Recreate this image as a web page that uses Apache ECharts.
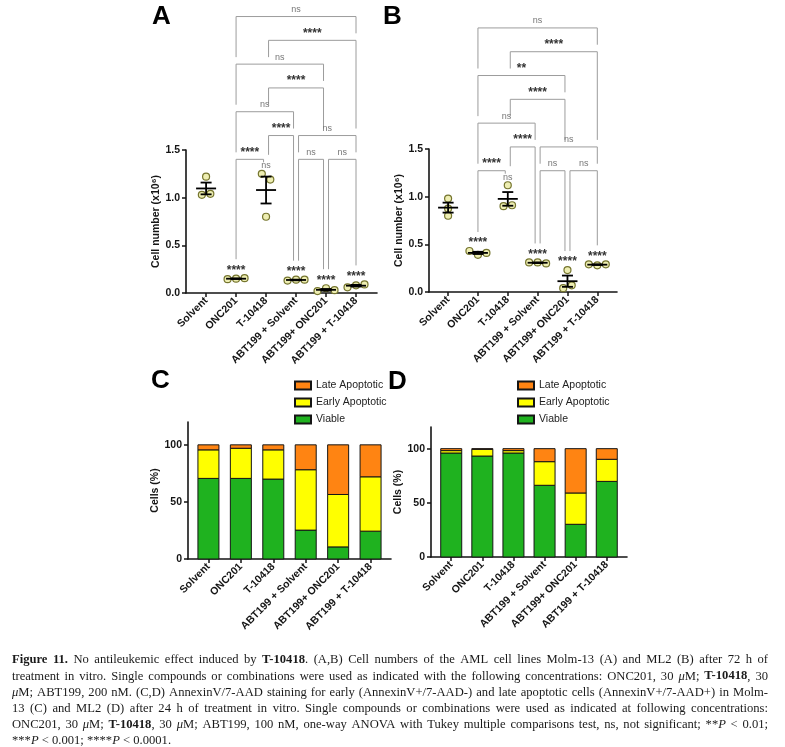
<!DOCTYPE html>
<html><head><meta charset="utf-8">
<script src="https://cdn.jsdelivr.net/npm/echarts@6/dist/echarts.min.js"></script>
<style>html,body{margin:0;padding:0;background:#fff}#c{width:785px;height:747px}</style>
</head><body><div id="c"></div><script>
// ---------------- data ----------------
const categories = ['Solvent', 'ONC201', 'T-10418', 'ABT199 + Solvent', 'ABT199+ ONC201', 'ABT199 + T-10418'];
const categoryTicks = [0, 1, 2, 3, 4, 5];
const cellTicks = [0, 0.5, 1, 1.5];
const percentTicks = [0, 50, 100];

// Panel A (Molm-13) cell numbers x10^6, three replicates per group
const molm13Cells = [[1.22, 1.03, 1.04], [0.145, 0.15, 0.155], [1.25, 1.19, 0.80], [0.13, 0.14, 0.14], [0.02, 0.05, 0.03], [0.06, 0.08, 0.09]];
// Panel B (ML2) cell numbers x10^6
const ml2Cells = [[0.98, 0.80, 0.875], [0.43, 0.39, 0.41], [1.12, 0.90, 0.91], [0.31, 0.31, 0.30], [0.23, 0.04, 0.07], [0.29, 0.28, 0.29]];

// significance vs. Solvent, shown above each group
const groupMarksA = ['', '****', 'ns', '****', '****', '****'];
const groupMarksB = ['', '****', 'ns', '****', '****', '****'];

// pairwise comparisons: [group i, group j, bracket row, label]
const comparisonsA = [[1, 5, 6, 'ns'], [2, 5, 5, '****'], [1, 4, 4, 'ns'], [2, 4, 3, '****'], [1, 3, 2, 'ns'], [2, 3, 1, '****'], [3, 5, 1, 'ns'], [1, 2, 0, '****'], [3, 4, 0, 'ns'], [4, 5, 0, 'ns']];
const comparisonsB = [[1, 5, 6, 'ns'], [2, 5, 5, '****'], [1, 4, 4, '**'], [2, 4, 3, '****'], [1, 3, 2, 'ns'], [2, 3, 1, '****'], [3, 5, 1, 'ns'], [1, 2, 0, '****'], [3, 4, 0, 'ns'], [4, 5, 0, 'ns']];

// Panel C (Molm-13) % cells
const molm13Viable = [70.6, 70.6, 70.0, 25.3, 10.6, 24.4];
const molm13Early = [25.0, 26.4, 25.6, 52.9, 45.9, 47.6];
const molm13Late = [4.4, 3.0, 4.4, 21.8, 43.5, 28.0];
// Panel D (ML2) % cells
const ml2Viable = [96.0, 93.2, 96.0, 66.2, 30.2, 69.8];
const ml2Early = [2.2, 6.2, 2.2, 21.8, 28.9, 20.4];
const ml2Late = [1.8, 0.6, 1.8, 12.0, 40.9, 9.8];

const statusNames = ['Viable', 'Early Apoptotic', 'Late Apoptotic'];
const legendOrder = ['Late Apoptotic', 'Early Apoptotic', 'Viable'];

const captionLines = [
  '{b|Figure} {b|11.} No antileukemic effect induced by {b|T-10418}. (A,B) Cell numbers of the AML cell lines Molm-13 (A) and ML2 (B) after 72 h of',
  'treatment in vitro. Single compounds or combinations were used as indicated with the following concentrations: ONC201, 30 {i|μ}M; {b|T-10418}, 30',
  '{i|μ}M; ABT199, 200 nM. (C,D) AnnexinV/7-AAD staining for early (AnnexinV+/7-AAD-) and late apoptotic cells (AnnexinV+/7-AAD+) in Molm-',
  '13 (C) and ML2 (D) after 24 h of treatment in vitro. Single compounds or combinations were used as indicated at following concentrations:',
  'ONC201, 30 {i|μ}M; {b|T-10418}, 30 {i|μ}M; ABT199, 100 nM, one-way ANOVA with Tukey multiple comparisons test, ns, not significant; **{i|P} < 0.01;',
  '***{i|P} < 0.001; ****{i|P} < 0.0001.'
];

// ---------------- helpers ----------------
const SANS = '"Liberation Sans", Arial, sans-serif';
const SERIF = '"Liberation Serif", "Times New Roman", serif';
const INK = '#151515';

function mean(a) { return a.reduce((s, v) => s + v, 0) / a.length; }
function sem(a) { const m = mean(a); const sd = Math.sqrt(a.reduce((s, v) => s + (v - m) * (v - m), 0) / (a.length - 1)); return sd / Math.sqrt(a.length); }
function groupTop(a) { return Math.max(Math.max.apply(null, a), mean(a) + sem(a)); }

function pointsSeries(idx, values) {
  const data = [];
  values.forEach((arr, c) => {
    const order = arr.map((v, k) => ({ v, k })).sort((a, b) => a.v - b.v);
    const groups = []; let g = [order[0]];
    for (let n = 1; n < order.length; n++) {
      if (order[n].v - order[n - 1].v < 0.07) g.push(order[n]); else { groups.push(g); g = [order[n]]; }
    }
    groups.push(g);
    groups.forEach(gr => { gr.sort((a, b) => a.k - b.k); gr.forEach((p, q) => data.push([c, p.v, q - (gr.length - 1) / 2])); });
  });
  return {
    type: 'custom', xAxisIndex: idx, yAxisIndex: idx, z: 3, data, encode: { x: 0, y: 1 },
    renderItem: (params, api) => {
      const p = api.coord([api.value(0), api.value(1)]);
      return { type: 'circle', shape: { cx: p[0] + api.value(2) * 8.5, cy: p[1], r: 3.5 }, style: { fill: '#eeeeb2', stroke: '#75752e', lineWidth: 1.2 } };
    }
  };
}

function meanSemSeries(idx, values) {
  return {
    type: 'custom', xAxisIndex: idx, yAxisIndex: idx, z: 4,
    data: values.map((a, c) => [c, mean(a), sem(a)]), encode: { x: 0, y: 1 },
    renderItem: (params, api) => {
      const c = api.value(0), m = api.value(1), s = api.value(2);
      const pm = api.coord([c, m]), ph = api.coord([c, m + s]), pl = api.coord([c, m - s]);
      const x = pm[0];
      const st = { stroke: '#000', lineWidth: 1.8 };
      return { type: 'group', children: [
        { type: 'line', shape: { x1: x, y1: ph[1], x2: x, y2: pl[1] }, style: st },
        { type: 'line', shape: { x1: x - 5.5, y1: ph[1], x2: x + 5.5, y2: ph[1] }, style: st },
        { type: 'line', shape: { x1: x - 5.5, y1: pl[1], x2: x + 5.5, y2: pl[1] }, style: st },
        { type: 'line', shape: { x1: x - 10, y1: pm[1], x2: x + 10, y2: pm[1] }, style: st }
      ] };
    }
  };
}

function markText(label, x, y) {
  const ns = label === 'ns';
  return { type: 'text', x, y, style: { text: label, align: 'center', verticalAlign: 'middle',
    fontFamily: SANS, fontSize: ns ? 9 : 12, fontWeight: ns ? 'normal' : 'bold', fill: ns ? '#777' : '#333' } };
}

function groupMarkSeries(idx, values, marks) {
  return {
    type: 'custom', xAxisIndex: idx, yAxisIndex: idx, z: 4,
    data: values.map((a, c) => [c, groupTop(a), c]), encode: { x: 0, y: 1 },
    renderItem: (params, api) => {
      const p = api.coord([api.value(0), api.value(1)]);
      const label = marks[api.value(2)];
      if (!label) return null;
      return markText(label, p[0], p[1] - 8);
    }
  };
}

function bracketSeries(idx, values, comps) {
  const tops = values.map(groupTop);
  const maxTop = Math.max.apply(null, tops);
  const isLeft = {}, isRight = {};
  comps.forEach(c => { isLeft[c[0]] = true; isRight[c[1]] = true; });
  return {
    type: 'custom', xAxisIndex: idx, yAxisIndex: idx, z: 2, clip: false,
    data: comps.map((c, k) => [c[0], c[1], c[2], k]), encode: { x: 0, y: 2 },
    renderItem: (params, api) => {
      const yBase = api.coord([0, maxTop])[1] - 14.5;
      const yRow = r => yBase - r * 23.8;
      const legX = (col, side) => {
        const x = api.coord([col, 0])[0];
        if (isLeft[col] && isRight[col]) return x + (side === 'L' ? 2.5 : -2.5);
        return x;
      };
      const legEnd = (x, col, r) => {
        let best = null;
        comps.forEach(o => {
          if (o[2] < r) {
            const xl = legX(o[0], 'L'), xr = legX(o[1], 'R');
            if (x >= xl - 0.6 && x <= xr + 0.6) { const y = yRow(o[2]) - 7; if (best === null || y < best) best = y; }
          }
        });
        if (best !== null) return best;
        const ann = api.coord([col, tops[col]])[1] - 8 - 11;
        return Math.max(ann, yRow(r) + 3);
      };
      const cmp = comps[api.value(3)];
      const r = cmp[2];
      const y = yRow(r);
      const xl = legX(cmp[0], 'L'), xr = legX(cmp[1], 'R');
      const el = legEnd(xl, cmp[0], r), er = legEnd(xr, cmp[1], r);
      return { type: 'group', children: [
        { type: 'polyline', shape: { points: [[xl, el], [xl, y], [xr, y], [xr, er]] }, style: { stroke: '#9c9c9c', lineWidth: 1, fill: null } },
        markText(cmp[3], (xl + xr) / 2, y - 7)
      ] };
    }
  };
}

function xAxisFor(idx, min, max) {
  return {
    gridIndex: idx, type: 'value', min, max,
    axisLine: { show: true, onZero: false, lineStyle: { color: INK, width: 1.6 } },
    axisTick: { show: true, customValues: categoryTicks, length: 4, lineStyle: { color: INK, width: 1.5 } },
    axisLabel: { customValues: categoryTicks, formatter: v => categories[Math.round(v)], rotate: 45, margin: 6,
      fontFamily: SANS, fontSize: 10.5, fontWeight: 'bold', color: INK },
    splitLine: { show: false }
  };
}

function yAxisFor(idx, max, ticks, name, gap, fmt) {
  return {
    gridIndex: idx, type: 'value', min: 0, max,
    name, nameLocation: 'middle', nameGap: gap,
    nameTextStyle: { fontFamily: SANS, fontSize: 10.5, fontWeight: 'bold', color: INK },
    axisLine: { show: true, onZero: false, lineStyle: { color: INK, width: 1.6 } },
    axisTick: { show: true, customValues: ticks, length: 4, lineStyle: { color: INK, width: 1.5 } },
    axisLabel: { customValues: ticks, formatter: fmt, margin: 6, fontFamily: SANS, fontSize: 10.5, fontWeight: 'bold', color: INK },
    splitLine: { show: false }
  };
}

const statusColors = { 'Viable': '#1fb21f', 'Early Apoptotic': '#ffff00', 'Late Apoptotic': '#ff8412' };
function stackSeries(idx, arrays) {
  return arrays.map((arr, k) => ({
    type: 'custom', name: statusNames[k], xAxisIndex: idx, yAxisIndex: idx, z: 2,
    data: arr.map((v, c) => {
      let base = 0;
      for (let q = 0; q < k; q++) base += arrays[q][c];
      return [c, base + v, base];
    }),
    encode: { x: 0, y: 1 },
    itemStyle: { color: statusColors[statusNames[k]], borderColor: INK, borderWidth: 1 },
    renderItem: (params, api) => {
      const top = api.coord([api.value(0), api.value(1)]);
      const bot = api.coord([api.value(0), api.value(2)]);
      const w = 21;
      return { type: 'rect', shape: { x: top[0] - w / 2, y: top[1], width: w, height: bot[1] - top[1] },
        style: { fill: statusColors[statusNames[k]], stroke: INK, lineWidth: 1 } };
    }
  }));
}

function legendFor(left) {
  return {
    data: legendOrder, orient: 'vertical', left, top: 374, icon: 'rect', itemWidth: 16, itemHeight: 8, itemGap: 4,
    selectedMode: false, textStyle: { fontFamily: SANS, fontSize: 10.5, color: '#222', lineHeight: 13 }
  };
}

function captionGraphics() {
  const size = 12.6, left = 12, right = 768, top0 = 660, lh = 16.2;
  const ctx = document.createElement('canvas').getContext('2d');
  const fontOf = t => (t === 'i' ? 'italic ' : '') + (t === 'b' ? 'bold ' : '') + size + 'px ' + SERIF;
  const measure = w => {
    let width = 0;
    w.replace(/\{(\w)\|([^}]*)\}|([^{]+)/g, (m, t, tx, plain) => { ctx.font = fontOf(t || ''); width += ctx.measureText(t ? tx : plain).width; return m; });
    return width;
  };
  ctx.font = fontOf('');
  const space = ctx.measureText(' ').width;
  const els = [];
  captionLines.forEach((line, li) => {
    const words = line.split(' ');
    const widths = words.map(measure);
    const total = widths.reduce((a, b) => a + b, 0);
    const last = li === captionLines.length - 1;
    const gap = last ? space : (right - left - total) / (words.length - 1);
    let x = left;
    words.forEach((w, k) => {
      els.push({ type: 'text', x, y: top0 + li * lh, silent: true, style: {
        text: w, fontFamily: SERIF, fontSize: size, fill: '#1a1a1a', verticalAlign: 'middle',
        rich: { b: { fontFamily: SERIF, fontSize: size, fontWeight: 'bold', fill: '#1a1a1a' }, i: { fontFamily: SERIF, fontSize: size, fontStyle: 'italic', fill: '#1a1a1a' } } } });
      x += widths[k] + gap;
    });
  });
  return els;
}

function panelLetter(t, left, top) {
  return { type: 'text', left, top, style: { text: t, fontFamily: SANS, fontSize: 26, fontWeight: 'bold', fill: '#000' } };
}

const chart = echarts.init(document.getElementById('c'), null, { renderer: 'canvas' });
chart.setOption({
  animation: false,
  backgroundColor: '#fff',
  grid: [
    { left: 186, top: 150, width: 191, height: 143 },
    { left: 429, top: 149, width: 188, height: 143 },
    { left: 188, top: 422, width: 203, height: 137 },
    { left: 431, top: 427, width: 196, height: 130 }
  ],
  xAxis: [xAxisFor(0, -0.67, 5.7), xAxisFor(1, -0.64, 5.66), xAxisFor(2, -0.63, 5.63), xAxisFor(3, -0.65, 5.65)],
  yAxis: [
    yAxisFor(0, 1.5, cellTicks, 'Cell number (x10⁶)', 21, v => v.toFixed(1)),
    yAxisFor(1, 1.5, cellTicks, 'Cell number (x10⁶)', 23, v => v.toFixed(1)),
    yAxisFor(2, 120, percentTicks, 'Cells (%)', 24, v => String(v)),
    yAxisFor(3, 120, percentTicks, 'Cells (%)', 23, v => String(v))
  ],
  legend: [legendFor(289), legendFor(512)],
  series: [
    bracketSeries(0, molm13Cells, comparisonsA),
    pointsSeries(0, molm13Cells),
    meanSemSeries(0, molm13Cells),
    groupMarkSeries(0, molm13Cells, groupMarksA),
    bracketSeries(1, ml2Cells, comparisonsB),
    pointsSeries(1, ml2Cells),
    meanSemSeries(1, ml2Cells),
    groupMarkSeries(1, ml2Cells, groupMarksB)
  ].concat(stackSeries(2, [molm13Viable, molm13Early, molm13Late]))
   .concat(stackSeries(3, [ml2Viable, ml2Early, ml2Late])),
  graphic: [
    panelLetter('A', 152, 4), panelLetter('B', 383, 4), panelLetter('C', 151, 368), panelLetter('D', 388, 369)
  ].concat(captionGraphics())
});
</script></body></html>
